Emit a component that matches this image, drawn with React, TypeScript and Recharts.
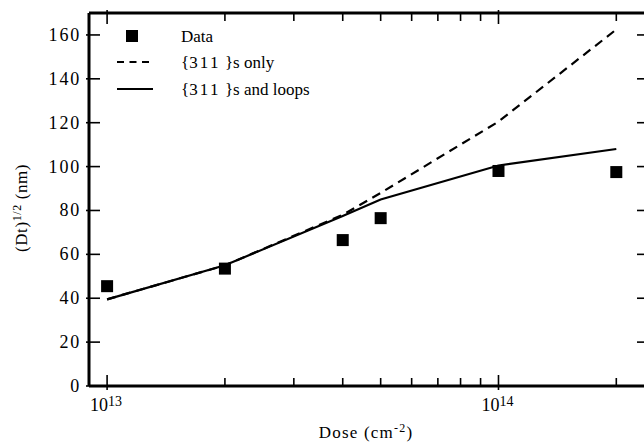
import React from 'react';
import { ComposedChart, Line, Scatter, XAxis, YAxis, Legend } from 'recharts';

// dose values (cm^-2) and measured / simulated (Dt)^1/2 in nm
const doses = [1e13, 2e13, 4e13, 5e13, 1e14, 2e14];
const measured = [45.5, 53.5, 66.5, 76.5, 98, 97.5];
const only311 = [39.5, 55, 78, 88, 120.5, 162.5];
const withLoops = [39.5, 55, 77.5, 85, 100.5, 108];

const xTicks = [1e13, 2e13, 3e13, 4e13, 5e13, 6e13, 7e13, 8e13, 9e13, 1e14, 2e14];
const majorX = [1e13, 1e14];
const yTicks = [0, 20, 40, 60, 80, 100, 120, 140, 160];

const FONT = '"Liberation Serif", "Times New Roman", serif';

const rows = doses.map((d, i) => ({
    dose: d,
    data: measured[i],
    only: only311[i],
    loops: withLoops[i],
}));

const BottomTick = (props: any) => {
    const { x, y, payload } = props;
    const major = majorX.includes(payload.value);
    const exp = Math.round(Math.log10(payload.value));
    return (
        <g>
            <line x1={x} x2={x} y1={y + (major ? 4 : 0)} y2={y - (major ? 11 : 8)} stroke="#000" strokeWidth={1.6} />
            {major && (
                <text x={x - 1} y={y + 25} textAnchor="middle" style={{ fontFamily: FONT }} fontSize={18} fill="#000">
                    10<tspan dy={-5} fontSize={14}>{exp}</tspan>
                </text>
            )}
        </g>
    );
};

const TopTick = (props: any) => {
    const { x, y, payload } = props;
    const major = majorX.includes(payload.value);
    return <line x1={x} x2={x} y1={y - (major ? 3 : 0)} y2={y + (major ? 11 : 8)} stroke="#000" strokeWidth={1.6} />;
};

const LeftTick = (props: any) => {
    const { x, y, payload } = props;
    return (
        <g>
            <line x1={x - 3} x2={x + 11} y1={y} y2={y} stroke="#000" strokeWidth={1.6} />
            <text x={x - 8} y={y} dy={6} textAnchor="end" style={{ fontFamily: FONT }} fontSize={18} letterSpacing={1.8} fill="#000">
                {payload.value}
            </text>
        </g>
    );
};

const RightTick = (props: any) => {
    const { x, y } = props;
    return <line x1={x - 11} x2={x} y1={y} y2={y} stroke="#000" strokeWidth={1.6} />;
};

const Square = (props: any) => {
    const { cx, cy } = props;
    return <rect x={cx - 6} y={cy - 6} width={12} height={12} fill="#000" />;
};

const LegendText = ({ y, rest }: { y: number; rest: string | null }) => (
    <text x={81} y={y + 6} style={{ fontFamily: FONT }} fontSize={17} fill="#000">
        {rest === null ? 'Data' : (
            <>
                {'{'}
                <tspan letterSpacing={2.2}>311</tspan> {'}'}s {rest}
            </>
        )}
    </text>
);

const renderLegend = () => (
    <svg width={280} height={85} style={{ display: 'block' }}>
        <rect x={26} y={10} width={12} height={12} fill="#000" />
        <line x1={17} x2={53} y1={42} y2={42} stroke="#000" strokeWidth={1.8} strokeDasharray="7 5.5" />
        <line x1={17} x2={53} y1={69} y2={69} stroke="#000" strokeWidth={1.8} />
        <LegendText y={16} rest={null} />
        <LegendText y={42} rest="only" />
        <LegendText y={69} rest="and loops" />
    </svg>
);

const YLabel = () => (
    <text x={21} y={208} transform="rotate(-90 21 208)" textAnchor="middle" dy={6} style={{ fontFamily: FONT }} fontSize={17} letterSpacing={0.6} fill="#000">
        (Dt)<tspan dy={-6} fontSize={12}>1/2</tspan>
        <tspan dy={6}> (nm)</tspan>
    </text>
);

const XLabel = () => (
    <text x={366} y={438} textAnchor="middle" style={{ fontFamily: FONT }} fontSize={17} letterSpacing={1.2} fill="#000">
        Dose  (cm<tspan dy={-6} fontSize={12}>-2</tspan>
        <tspan dy={6}>)</tspan>
    </text>
);

export default function App() {
    const xDomain = [8.99e12, 2.41e14];
    const frame = { stroke: '#000', strokeWidth: 3 };
    return (
        <div style={{ position: 'fixed', left: 0, top: 0, width: 644, height: 443, overflow: 'hidden', background: '#fff' }}>
            <ComposedChart width={660} height={443} data={rows} margin={{ top: 12, right: 11, bottom: 27, left: 49 }}>
                <XAxis
                    dataKey="dose"
                    type="number"
                    scale="log"
                    domain={xDomain}
                    allowDataOverflow
                    ticks={xTicks}
                    interval={0}
                    height={30}
                    tickSize={0}
                    tickMargin={0}
                    tickLine={false}
                    tick={<BottomTick />}
                    stroke="#000"
                    strokeWidth={3}
                    axisLine={frame}
                    label={<XLabel />}
                />
                <XAxis
                    xAxisId="top"
                    orientation="top"
                    dataKey="dose"
                    type="number"
                    scale="log"
                    domain={xDomain}
                    allowDataOverflow
                    ticks={xTicks}
                    interval={0}
                    height={1}
                    tickSize={0}
                    tickMargin={0}
                    tickLine={false}
                    tick={<TopTick />}
                    stroke="#000"
                    strokeWidth={3}
                    axisLine={frame}
                />
                <YAxis
                    type="number"
                    domain={[0, 170]}
                    ticks={yTicks}
                    interval={0}
                    width={40}
                    tickSize={0}
                    tickMargin={0}
                    tickLine={false}
                    tick={<LeftTick />}
                    stroke="#000"
                    strokeWidth={3}
                    axisLine={frame}
                    label={<YLabel />}
                />
                <YAxis
                    yAxisId="right"
                    orientation="right"
                    type="number"
                    domain={[0, 170]}
                    allowDataOverflow
                    ticks={yTicks}
                    interval={0}
                    width={1}
                    tickSize={0}
                    tickMargin={0}
                    tickLine={false}
                    tick={<RightTick />}
                    stroke="#000"
                    strokeWidth={3}
                    axisLine={frame}
                />
                <Legend
                    content={renderLegend}
                    layout="horizontal"
                    verticalAlign="middle"
                    align="center"
                    wrapperStyle={{ left: 100, top: 20, width: 280 }}
                />
                <Line
                    dataKey="only"
                    type="linear"
                    stroke="#000"
                    strokeWidth={2.2}
                    strokeDasharray="9 6"
                    dot={false}
                    activeDot={false}
                    isAnimationActive={false}
                />
                <Line
                    dataKey="loops"
                    type="linear"
                    stroke="#000"
                    strokeWidth={2.2}
                    dot={false}
                    activeDot={false}
                    isAnimationActive={false}
                />
                <Scatter dataKey="data" fill="#000" shape={<Square />} isAnimationActive={false} />
            </ComposedChart>
        </div>
    );
}
